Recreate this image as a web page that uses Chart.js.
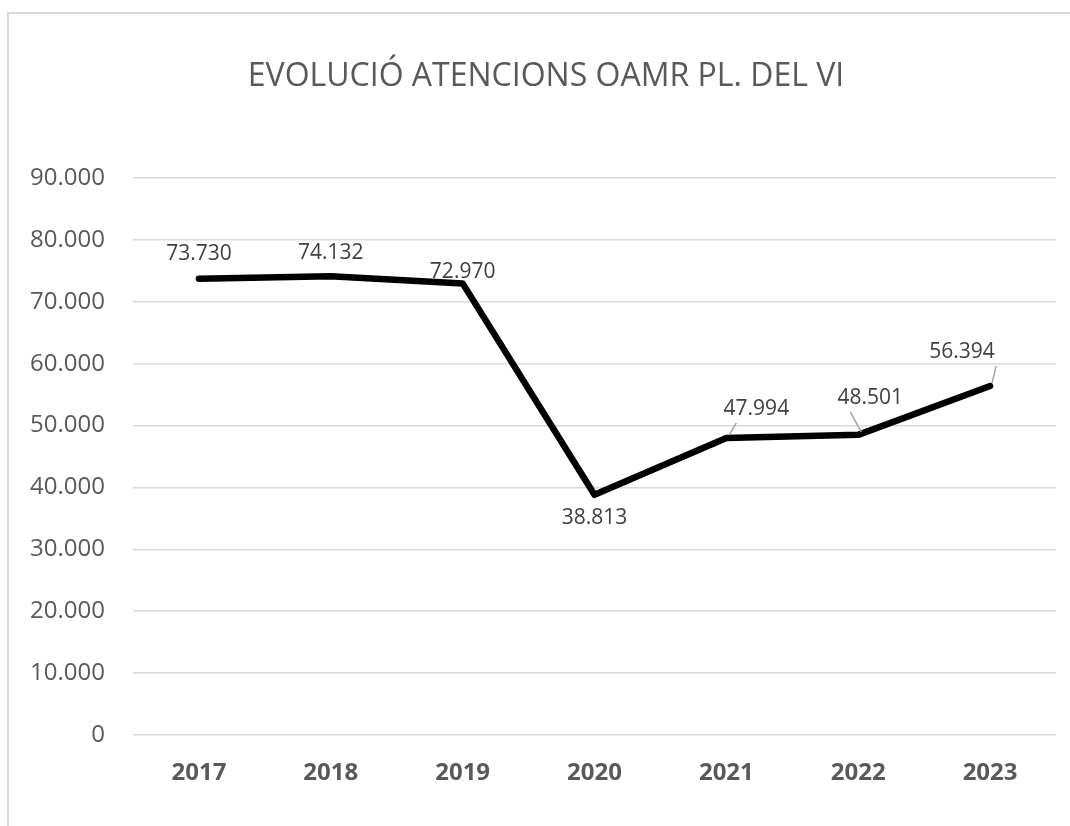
<!DOCTYPE html>
<html><head><meta charset="utf-8">
<script src="https://cdn.jsdelivr.net/npm/chart.js@4/dist/chart.umd.min.js"></script>
<style>html,body{margin:0;padding:0;background:#fff;}#wrap{position:relative;width:1070px;height:826px;}</style>
</head><body><div id="wrap"><canvas id="c" width="1070" height="826"></canvas></div>
<script>
const categories = ['2017','2018','2019','2020','2021','2022','2023'];
const atencions = [73730, 74132, 72970, 38813, 47994, 48501, 56394];
const titleText = 'EVOLUCIÓ ATENCIONS OAMR PL. DEL VI';

const fmt = v => v.toLocaleString('de-DE');

// label placement (pixel offsets from point), leader flag
const labelPlacement = [
  {dx:0, dy:-25, leader:false},
  {dx:0, dy:-23, leader:false},
  {dx:0, dy:-11, leader:false},
  {dx:0, dy:23, leader:false},
  {dx:30, dy:-29, leader:true},
  {dx:12, dy:-37, leader:true},
  {dx:-28, dy:-34, leader:true}
];

const labelsPlugin = {
  id:'labelsPlugin',
  beforeDraw(chart){
    const ctx = chart.ctx;
    ctx.save();
    ctx.strokeStyle = '#d9d9d9';
    ctx.lineWidth = 2;
    ctx.beginPath();
    ctx.moveTo(8, 826);
    ctx.lineTo(8, 13);
    ctx.lineTo(1070, 13);
    ctx.stroke();
    // title
    ctx.font = '32px "Open Sans"';
    ctx.fillStyle = '#595959';
    ctx.textAlign = 'center';
    ctx.textBaseline = 'middle';
    ctx.fillText(titleText, 546, 77);
    ctx.restore();
  },
  afterDatasetsDraw(chart){
    const ctx = chart.ctx;
    const meta = chart.getDatasetMeta(0);
    ctx.save();
    ctx.font = '21px "Open Sans"';
    ctx.fillStyle = '#404040';
    ctx.textAlign = 'center';
    ctx.textBaseline = 'middle';
    meta.data.forEach((pt, i) => {
      const p = labelPlacement[i];
      const lx = pt.x + p.dx, ly = pt.y + p.dy;
      if (p.leader) {
        ctx.strokeStyle = '#a6a6a6';
        ctx.lineWidth = 1.5;
        ctx.beginPath();
        const sx = pt.x + (p.dx > 0 ? 3 : 2), sy = pt.y - 3;
        const ex = p.dx > 0 ? lx - 20 : lx + 34;
        const ey = ly + 14;
        ctx.moveTo(sx, sy);
        ctx.lineTo(ex, ey);
        ctx.stroke();
      }
      ctx.fillText(fmt(atencions[i]), lx, ly);
    });
    ctx.restore();
  }
};

new Chart(document.getElementById('c'), {
  type:'line',
  data:{
    labels: categories,
    datasets:[{
      data: atencions,
      borderColor:'#000000',
      borderWidth:6.5,
      pointRadius:0,
      tension:0,
      borderJoinStyle:'round',
      borderCapStyle:'round'
    }]
  },
  options:{
    responsive:false,
    animation:false,
    devicePixelRatio:1,
    layout:{padding:{left:0,right:14,top:178,bottom:0}},
    plugins:{
      legend:{display:false},
      tooltip:{enabled:false},
      title:{display:false}
    },
    scales:{
      x:{
        offset:true,
        grid:{display:false, drawTicks:false},
        border:{display:false},
        ticks:{color:'#595959', font:{family:'"Open Sans"', size:24, weight:'bold'}, padding:24},
        afterFit(s){ s.height = 91; }
      },
      y:{
        min:0, max:90000,
        grid:{color:'#d9d9d9', lineWidth:1.5, drawTicks:false},
        border:{display:false},
        ticks:{stepSize:10000, color:'#595959', font:{family:'"Open Sans"', size:24}, padding:28,
          callback:v => fmt(v)},
        afterFit(s){ s.width = 133; }
      }
    }
  },
  plugins:[labelsPlugin]
});
</script></body></html>
